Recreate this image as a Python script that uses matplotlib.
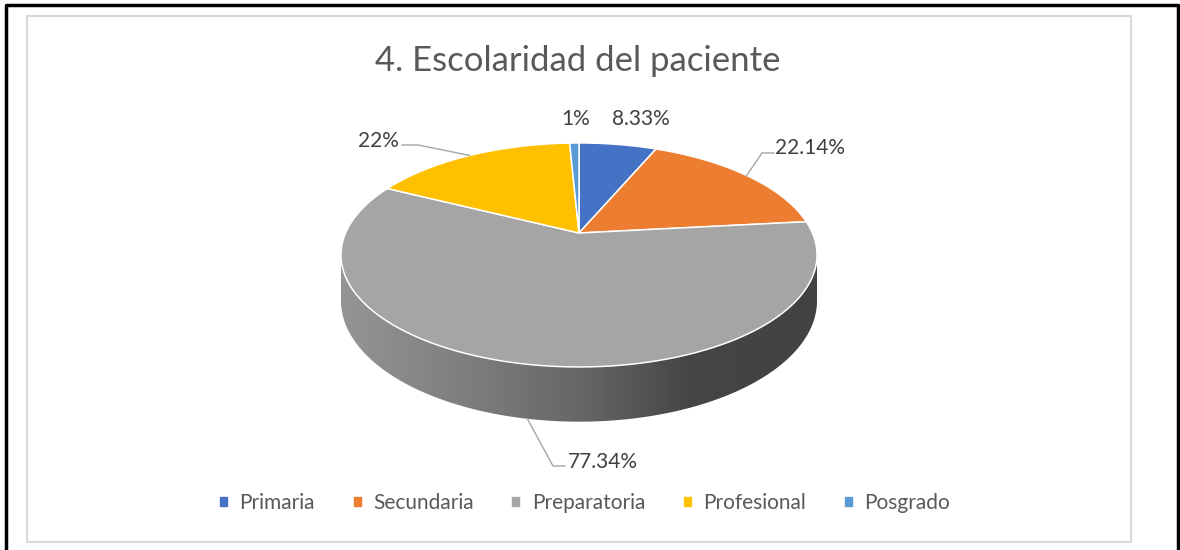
import numpy as np
import matplotlib.pyplot as plt
from matplotlib.patches import Patch, Polygon

plt.rcParams['font.family'] = ['Lato', 'DejaVu Sans']

# data
categories = ['Primaria', 'Secundaria', 'Preparatoria', 'Profesional', 'Posgrado']
values = [8.33, 22.14, 77.34, 22, 1]
colors = ['#4472C4', '#ED7D31', '#A5A5A5', '#FFC000', '#5B9BD5']

# layout of the 3d pie (pixels), a simple perspective view of a disc
CX, CY = 579, 233
A, B, K = 233.4, 107.7, 0.196
DEPTH = 44

# label text spots (baseline) and elbow points of the leader lines
label_xy = [(641, 125), (775, 154), (568, 468), (399, 147), (576, 125)]
label_ha = ['center', 'left', 'left', 'right', 'center']
elbows = [None, [(762, 153), (774, 153)], [(553, 466), (565, 466)],
          [(418, 145), (402, 145)], None]


def proj(theta, level=0.0):
    t = np.radians(theta)
    u, v = np.cos(t), np.sin(t)
    w = 1 + K * v
    return CX + A * u / w, CY - B * v / w + level * DEPTH / w


fig = plt.figure(figsize=(11.8, 5.5), dpi=100)
ax = fig.add_axes([0, 0, 1, 1])
ax.set_xlim(0, 1180)
ax.set_ylim(550, 0)
ax.axis('off')

# frames
ax.plot([6, 6, 1178, 1178], [552, 5, 5, 552], color='black', lw=2.5)
ax.add_patch(plt.Rectangle((27, 16), 1104, 526, fill=False, ec='#d9d9d9', lw=1.5))

ax.text(578, 71, '4. Escolaridad del paciente', ha='center', va='baseline',
        fontsize=25, color='#595959')

vals = np.array(values, dtype=float)
cum = np.concatenate([[0], np.cumsum(vals) / vals.sum() * 360])
starts = 90 - cum[:-1]
ends = 90 - cum[1:]

# side wall, visible from the left tangent to the right tangent
tang = np.degrees(np.arcsin(K))
vis_lo, vis_hi = -180 + tang, -tang
shade_x = [341, 470, 579, 690, 817]
shade_f = [0.9, 0.76, 0.62, 0.42, 0.40]

for i in range(len(vals)):
    for shift in (-360, 0, 360):
        lo = max(ends[i] + shift, vis_lo)
        hi = min(starts[i] + shift, vis_hi)
        if hi <= lo:
            continue
        th = np.linspace(lo, hi, 200)
        xt, yt = proj(th)
        xb, yb = proj(th[::-1], 1)
        poly = Polygon(np.column_stack([np.r_[xt, xb], np.r_[yt, yb]]),
                       closed=True, fc='none', ec='none')
        ax.add_patch(poly)
        x0, x1 = min(xt.min(), xb.min()), max(xt.max(), xb.max())
        y0, y1 = min(yt.min(), yb.min()), max(yt.max(), yb.max())
        xs = np.linspace(x0, x1, 400)
        f = np.interp(xs, shade_x, shade_f)
        base = np.array(plt.matplotlib.colors.to_rgb(colors[i]))
        img = np.clip(f[None, :, None] * base[None, None, :], 0, 1)
        im = ax.imshow(img, extent=[x0, x1, y1, y0], aspect='auto',
                       interpolation='bilinear', zorder=1)
        im.set_clip_path(poly)

# top face
for i in range(len(vals)):
    th = np.linspace(starts[i], ends[i], 200)
    x, y = proj(th)
    ax.fill(np.r_[CX, x], np.r_[CY, y], color=colors[i], ec='white', lw=1.1, zorder=2)

# data labels with leader lines
for i in range(len(vals)):
    mid = (starts[i] + ends[i]) / 2
    lx, ly = label_xy[i]
    if elbows[i] is not None:
        sx, sy = proj(mid, 1 if np.sin(np.radians(mid)) < -0.3 else 0)
        px = [sx] + [p[0] for p in elbows[i]]
        py = [sy] + [p[1] for p in elbows[i]]
        ax.plot(px, py, color='#a6a6a6', lw=1, zorder=3)
    ax.text(lx, ly, f'{values[i]:g}%', ha=label_ha[i], va='baseline',
            fontsize=15, color='#404040')

handles = [Patch(color=c, label=n) for c, n in zip(colors, categories)]
ax.legend(handles=handles, loc='center', bbox_to_anchor=(585, 503),
          bbox_transform=ax.transData, ncol=5, frameon=False, fontsize=15,
          handlelength=0.34, handleheight=0.34, handletextpad=0.6,
          columnspacing=1.85, labelcolor='#595959')

fig.savefig('out.png', dpi=100)
